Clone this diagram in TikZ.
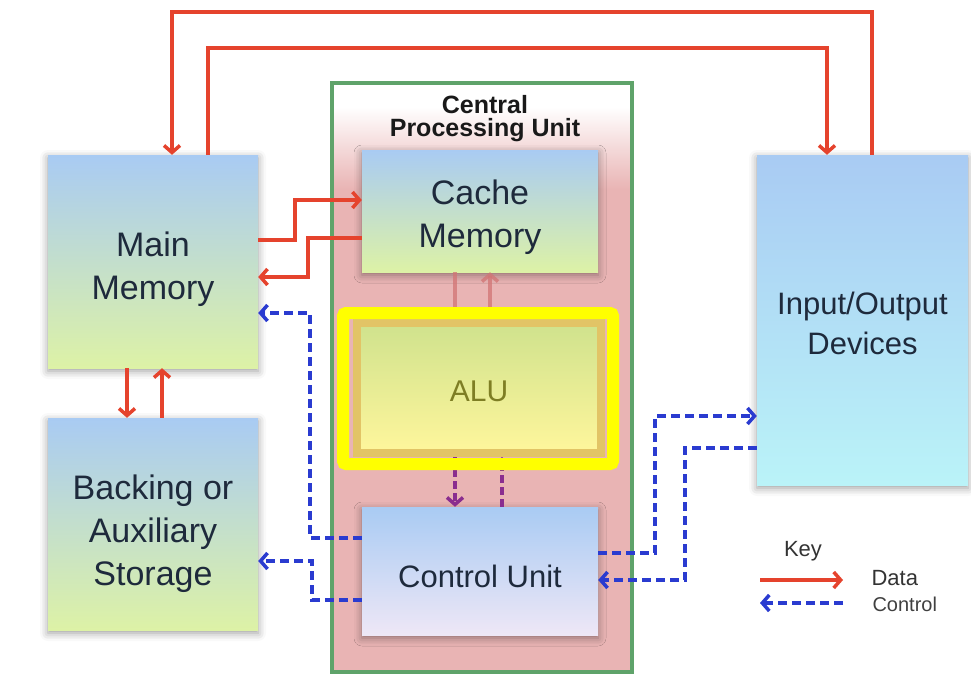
\documentclass[tikz,border=0pt]{standalone}
\usepackage{fontspec}
\setmainfont{Liberation Sans}
\usetikzlibrary{arrows.meta,shadows.blur,calc}
\definecolor{dred}{HTML}{E5432D}
\definecolor{cblue}{HTML}{2A3BD0}
\definecolor{cpurple}{HTML}{8A2D8F}
\definecolor{fadered}{HTML}{D27474}
\definecolor{boxblue}{HTML}{A9CBF3}
\definecolor{boxgreen}{HTML}{DDF2A6}
\definecolor{iocyan}{HTML}{BAF3F8}
\definecolor{culav}{HTML}{EEE7F6}
\definecolor{alutop}{HTML}{CFE28D}
\definecolor{alubot}{HTML}{FFF69C}
\definecolor{aluedge}{HTML}{E2C466}
\definecolor{cpupink}{HTML}{E9B4B4}
\definecolor{cpugreen}{HTML}{5FA36A}
\definecolor{hiyellow}{HTML}{FFFF00}
\definecolor{txt}{HTML}{1E2A3C}
\definecolor{alutxt}{HTML}{7E7E24}
\pgfdeclareverticalshading{cpushade}{100bp}{color(0bp)=(cpupink); color(66bp)=(cpupink); color(73bp)=(white); color(100bp)=(white)}
\tikzset{
  unitbox/.style={rectangle, inner sep=0pt,
    blur shadow={shadow xshift=0pt, shadow yshift=-3pt, shadow blur radius=8pt, shadow opacity=40}},
  bigtext/.style={font=\fontsize{34}{43}\selectfont, align=center, text=txt},
  midtext/.style={font=\fontsize{31}{40}\selectfont, align=center, text=txt},
  data/.style={draw=dred, line width=3.5pt, -{Straight Barb[length=7pt,width=16pt]}},
  ctrl/.style={draw=cblue, line width=3.5pt, dash pattern=on 9pt off 5pt, -{Straight Barb[length=7pt,width=16pt]}},
  fdata/.style={draw=fadered, line width=3.5pt, -{Straight Barb[length=7pt,width=16pt]}},
  pctrl/.style={draw=cpurple, line width=3.5pt, dash pattern=on 8pt off 4pt, -{Straight Barb[length=7pt,width=16pt]}}
}
\begin{document}
\begin{tikzpicture}[x=1pt,y=-1pt]
\useasboundingbox (0,0) rectangle (971,674);
% CPU frame
\node[rectangle, inner sep=0pt, minimum width=300pt, minimum height=589pt, shading=cpushade, draw=cpugreen, line width=4pt] (cpu) at (482,377.5) {};
\node[font=\bfseries\fontsize{25}{23}\selectfont, align=center, text=black!90] (title) at (485,119) {Central\\Processing Unit};
% boxes
\node[unitbox, minimum width=210pt, minimum height=213pt, top color=boxblue, bottom color=boxgreen,
  label={[bigtext, yshift=-8pt]center:{Main\\Memory}}] (mm) at (153,261.5) {};
\node[unitbox, minimum width=210pt, minimum height=212pt, top color=boxblue, bottom color=boxgreen,
  label={[bigtext, yshift=-10pt]center:{Backing or\\Auxiliary\\Storage}}] (bk) at (153,524) {};
\node[unitbox, minimum width=236pt, minimum height=122pt, top color=boxblue, bottom color=boxgreen,
  label={[bigtext, yshift=-6pt]center:{Cache\\Memory}}] (cache) at (480,211) {};
\node[unitbox, minimum width=236pt, minimum height=128pt, top color=boxblue, bottom color=culav,
  label={[midtext, yshift=-5pt]center:{Control Unit}}] (cu) at (480,571) {};
\node[unitbox, minimum width=211pt, minimum height=330pt, top color=boxblue, bottom color=iocyan,
  label={[midtext, yshift=-3pt]center:{Input/Output\\Devices}}] (io) at (862.5,320) {};
\node[rectangle, inner sep=0pt, minimum width=244pt, minimum height=130pt, top color=alutop, bottom color=alubot, draw=aluedge, line width=8pt,
  label={[text=alutxt, font=\fontsize{30}{36}\selectfont, yshift=-3pt]center:ALU}] (alu) at (479,388) {};
% cache <-> ALU (faded)
\draw[fdata, opacity=0.75] (cache.south -| 455,0) -- (alu.north -| 455,0);
\draw[fdata, opacity=0.75] (alu.north -| 490,0) -- (cache.south -| 490,0);
% ALU <-> control (purple)
\draw[pctrl] (alu.south -| 455,0) -- (cu.north -| 455,0);
\draw[pctrl] (cu.north -| 502,0) -- (alu.south -| 502,0);
% yellow highlight
\node[rectangle, inner sep=0pt, minimum width=270pt, minimum height=151pt, draw=hiyellow, line width=12pt, rounded corners=3pt] (hl) at (478,388.5) {};
% top data loops
\draw[data] (io.north -| 872,0) |- (172,12) -- (mm.north -| 172,0);
\draw[data] (mm.north -| 208,0) |- (827,48) -- (io.north -| 827,0);
% main <-> cache
\draw[data] (mm.east |- 0,240) -- (295,240) |- (cache.west |- 0,200);
\draw[data] (cache.west |- 0,238) -- (308,238) |- (mm.east |- 0,277);
% main <-> backing
\draw[data] (mm.south -| 127,0) -- (bk.north -| 127,0);
\draw[data] (bk.north -| 162,0) -- (mm.south -| 162,0);
% control lines
\draw[ctrl] (cu.west |- 0,538) -- (310,538) |- (mm.east |- 0,313);
\draw[ctrl] (cu.west |- 0,600) -- (312,600) |- (bk.east |- 0,561);
\draw[ctrl] (cu.east |- 0,553) -- (655,553) |- (io.west |- 0,416);
\draw[ctrl] (io.west |- 0,448) -- (685,448) |- (cu.east |- 0,580);
% key
\node[font=\fontsize{22}{22}\selectfont, text=black!80] (key) at (803,551) {Key};
\coordinate (kd1) at (760,580);
\coordinate (kd2) at (843,580);
\draw[data] (kd1) -- (kd2);
\node[anchor=west, font=\fontsize{22}{22}\selectfont, text=black!80] (kdata) at (868,578) {Data};
\coordinate (kc1) at (843,603);
\coordinate (kc2) at (760,603);
\draw[ctrl] (kc1) -- (kc2);
\node[anchor=west, font=\fontsize{20}{20}\selectfont, text=black!75] (kctrl) at (869,604) {Control};
\end{tikzpicture}
\end{document}
